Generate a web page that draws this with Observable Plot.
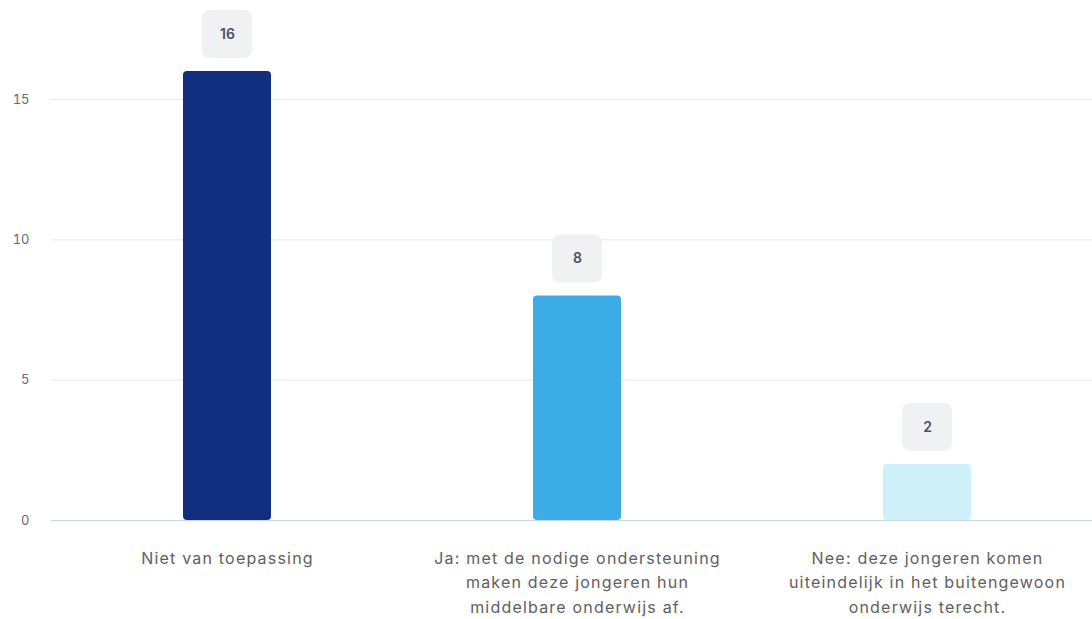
<!DOCTYPE html>
<html>
<head>
<meta charset="utf-8">
<script src="https://cdn.jsdelivr.net/npm/d3@7"></script>
<script src="https://cdn.jsdelivr.net/npm/@observablehq/plot@0.6"></script>
<style>
  html, body { margin: 0; padding: 0; background: #ffffff; overflow: hidden; }
  #chart svg { display: block; }
</style>
</head>
<body>
<div id="chart"></div>
<script>
// ---- data ----
const categories = [
  "Niet van toepassing",
  "Ja: met de nodige ondersteuning maken deze jongeren hun middelbare onderwijs af.",
  "Nee: deze jongeren komen uiteindelijk in het buitengewoon onderwijs terecht."
];
const tickLabels = [
  "Niet van toepassing",
  "Ja: met de nodige ondersteuning\nmaken deze jongeren hun\nmiddelbare onderwijs af.",
  "Nee: deze jongeren komen\nuiteindelijk in het buitengewoon\nonderwijs terecht."
];
const values = [16, 8, 2];
const yTicks = [0, 5, 10, 15];
const barColors = ["#122f7f", "#3aade6", "#cff1f9"];

const data = categories.map((c, i) => ({ category: c, value: values[i], label: tickLabels[i] }));

const chart = Plot.plot({
  width: 1092,
  height: 619,
  marginLeft: 51,
  marginRight: 0,
  marginTop: 0,
  marginBottom: 0,
  style: { fontFamily: "Inter, 'Noto Sans', sans-serif", background: "#ffffff" },
  x: { domain: categories, range: [51, 1102], padding: 0, axis: null },
  y: { domain: [0, 16], range: [520, 71], axis: null },
  color: { domain: categories, range: barColors },
  marks: [
    Plot.ruleY(yTicks.filter(d => d > 0), { stroke: "#e6e6e6", strokeWidth: 1 }),
    Plot.axisY({ ticks: yTicks, tickSize: 0, tickPadding: 22, fontSize: 13, color: "#6b6b6b", label: null, textAnchor: "end" }),
    Plot.barY(data, { x: "category", y: "value", fill: "category", insetLeft: 131, insetRight: 131, rx: 4 }),
    Plot.ruleY([0], { stroke: "#ccd6eb", strokeWidth: 1 }),
    Plot.rect(data, { x: "category", y1: "value", y2: "value", insetLeft: 150, insetRight: 150, insetTop: -61, insetBottom: 13, fill: "#f0f1f2", rx: 8 }),
    Plot.text(data, { x: "category", y: "value", text: d => String(d.value), dy: -37, fontSize: 14, fontWeight: 600, fill: "#4b5263" }),
    Plot.text(data, { x: "category", y: 0, text: "label", dy: 26, lineAnchor: "top", lineHeight: 1.53, fontSize: 16, fill: "#606060", textAnchor: "middle" })
  ]
});
// widen the spacing of the category labels (last text group)
const textGroups = chart.querySelectorAll('g[aria-label="text"]');
if (textGroups.length) textGroups[textGroups.length - 1].setAttribute("letter-spacing", "1.2px");
document.getElementById("chart").appendChild(chart);
</script>
</body>
</html>
